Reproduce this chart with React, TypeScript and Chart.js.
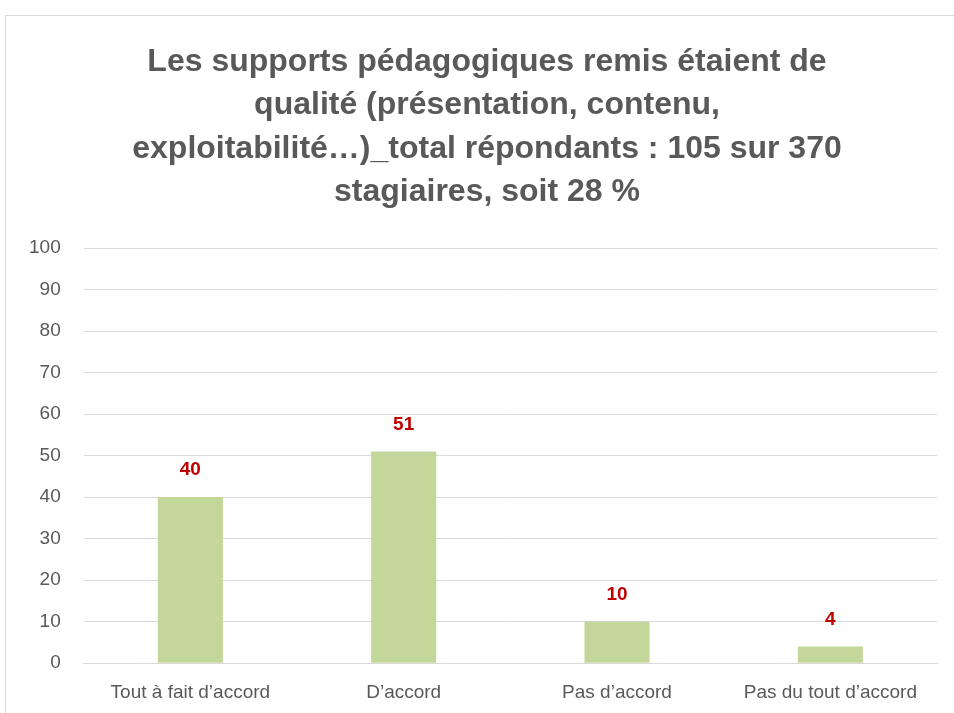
import React, { useEffect, useRef } from "react";
import { Chart, registerables } from "chart.js";

Chart.register(...registerables);

const categories = ["Tout à fait d\u2019accord", "D\u2019accord", "Pas d\u2019accord", "Pas du tout d\u2019accord"];
const values = [40, 51, 10, 4];
const titleLines = [
  "Les supports pédagogiques remis étaient de",
  "qualité (présentation, contenu,",
  "exploitabilité\u2026)_total répondants : 105 sur 370",
  "stagiaires, soit 28 %",
];

const valueLabels = {
  id: "valueLabels",
  afterDatasetsDraw(chart: any) {
    const ctx = chart.ctx;
    const meta = chart.getDatasetMeta(0);
    ctx.save();
    ctx.fillStyle = "#C00000";
    ctx.font = "bold 19px 'Liberation Sans', sans-serif";
    ctx.textAlign = "center";
    ctx.textBaseline = "middle";
    meta.data.forEach((bar: any, i: number) => {
      ctx.fillText(String(values[i]), bar.x, bar.y - 27);
    });
    ctx.restore();
  },
};

const titlePlugin = {
  id: "customTitle",
  afterDraw(chart: any) {
    const ctx = chart.ctx;
    ctx.save();
    ctx.fillStyle = "#595959";
    ctx.font = "bold 32px 'Liberation Sans', sans-serif";
    ctx.textAlign = "center";
    ctx.textBaseline = "middle";
    titleLines.forEach((line, i) => {
      ctx.fillText(line, 487, 62 + i * 43.5);
    });
    ctx.restore();
  },
};

export default function App() {
  const ref = useRef<HTMLCanvasElement | null>(null);
  useEffect(() => {
    if (!ref.current) return;
    const chart = new Chart(ref.current, {
      type: "bar",
      data: {
        labels: categories,
        datasets: [
          {
            data: values,
            backgroundColor: "#C4D79B",
            barPercentage: 0.61,
            categoryPercentage: 0.5,
          },
        ],
      },
      options: {
        animation: false,
        responsive: false,
        maintainAspectRatio: false,
        layout: { padding: { left: 6, right: 17, top: 248, bottom: -9 } },
        plugins: {
          legend: { display: false },
          tooltip: { enabled: false },
          title: { display: false },
        },
        scales: {
          y: {
            min: 0,
            max: 100,
            ticks: {
              stepSize: 10,
              color: "#595959",
              padding: 23,
              font: { family: "'Liberation Sans', sans-serif", size: 19 },
            },
            grid: { color: "#D9D9D9", drawTicks: false, lineWidth: 1 },
            border: { display: false },
          },
          x: {
            ticks: {
              color: "#595959",
              padding: 18,
              font: { family: "'Liberation Sans', sans-serif", size: 19 },
            },
            grid: { display: false, drawTicks: false },
            border: { display: true, color: "#D9D9D9", width: 1 },
          },
        },
      },
      plugins: [valueLabels, titlePlugin],
    });
    return () => chart.destroy();
  }, []);
  return (
    <div style={{ position: "absolute", left: 0, top: 0, width: 954, height: 713, background: "#fff", overflow: "hidden" }}>
      <div style={{ position: "absolute", left: 5, top: 15, width: 1000, height: 800, border: "1px solid #D9D9D9", boxSizing: "border-box" }} />
      <canvas ref={ref} width={954} height={713} style={{ position: "absolute", left: 0, top: 0 }} />
    </div>
  );
}
